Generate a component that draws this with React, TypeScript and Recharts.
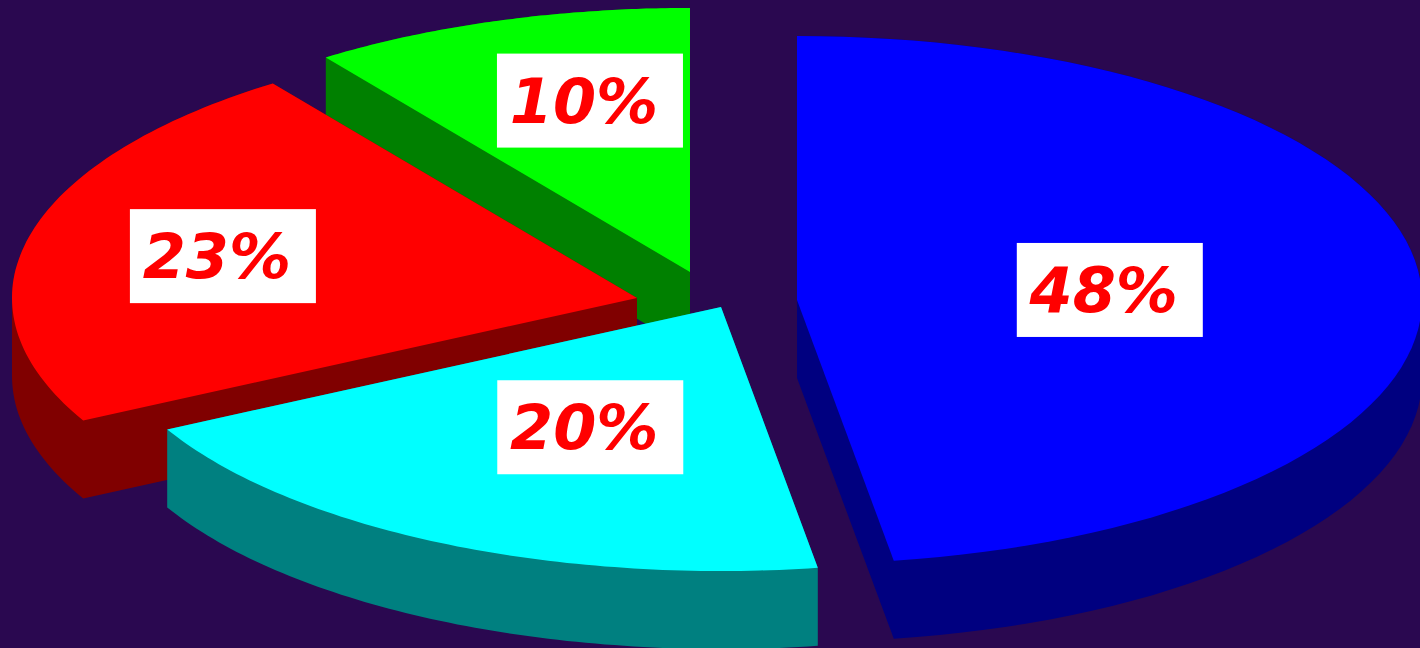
import { PieChart, Pie } from "recharts";

// slice order is counter-clockwise from 12 o'clock, so the back slices come first
const categories = ["Green", "Red", "Cyan", "Blue"];
const values = [10, 23, 20, 48];
const labels = ["10%", "23%", "20%", "48%"];

const topColors = ["#00ff00", "#ff0000", "#00ffff", "#0000ff"];
const sideColors = ["#008000", "#800000", "#008080", "#000080"];

// ellipse of the top face and thickness of the disc
const RX = 625;
const RY = 264;
const DEPTH = 78;

// exploded offset of each slice from the pie centre
const explode = [
  [-10, -18],
  [-63, 8],
  [21, 17],
  [97, 10],
];
// where the label box sits along the slice's mid angle (fraction of rx, ry)
const labelFrac = [
  [0.523, 0.682],
  [0.681, 0.686],
  [0.465, 0.51],
  [0.502, 0.49],
];

const data = categories.map((name, i) => ({ name, value: values[i], label: labels[i] }));

const rad = (a: number) => (a * Math.PI) / 180;

function hull(pts: number[][]) {
  const p = [...pts].sort((a, b) => a[0] - b[0] || a[1] - b[1]);
  const cross = (o: number[], a: number[], b: number[]) =>
    (a[0] - o[0]) * (b[1] - o[1]) - (a[1] - o[1]) * (b[0] - o[0]);
  const lower: number[][] = [];
  for (const q of p) {
    while (lower.length >= 2 && cross(lower[lower.length - 2], lower[lower.length - 1], q) <= 0) lower.pop();
    lower.push(q);
  }
  const upper: number[][] = [];
  for (let i = p.length - 1; i >= 0; i--) {
    const q = p[i];
    while (upper.length >= 2 && cross(upper[upper.length - 2], upper[upper.length - 1], q) <= 0) upper.pop();
    upper.push(q);
  }
  return lower.slice(0, -1).concat(upper.slice(0, -1));
}

const toPath = (pts: number[][]) =>
  pts.map((p, i) => `${i ? "L" : "M"}${p[0].toFixed(1)},${p[1].toFixed(1)}`).join("") + "Z";

// draws one 3D slice from the angles the Pie computed
const renderSlice = (props: any) => {
  const { cx, cy, startAngle, endAngle, midAngle, index } = props;
  const x0 = cx + explode[index][0];
  const y0 = cy + explode[index][1];
  const steps = 80;
  const top: number[][] = [[x0, y0]];
  for (let s = 0; s <= steps; s++) {
    const a = rad(startAngle + ((endAngle - startAngle) * s) / steps);
    top.push([x0 + RX * Math.cos(a), y0 - RY * Math.sin(a)]);
  }
  const bottom = top.map((p) => [p[0], p[1] + DEPTH]);
  const side = hull(top.concat(bottom));

  const m = rad(midAngle);
  const lx = x0 + labelFrac[index][0] * RX * Math.cos(m);
  const ly = y0 - labelFrac[index][1] * RY * Math.sin(m);

  return (
    <g key={`slice-${index}`}>
      <path d={toPath(side)} fill={sideColors[index]} />
      <path d={toPath(top)} fill={topColors[index]} />
      <rect x={lx - 93} y={ly - 47} width={186} height={94} fill="#ffffff" />
      <text
        x={lx - 6}
        y={ly + 22}
        textAnchor="middle"
        fill="#ff0000"
        fontFamily="'DejaVu Sans', Verdana, sans-serif"
        fontWeight="bold"
        fontStyle="italic"
        fontSize={62}
      >
        {data[index].label}
      </text>
    </g>
  );
};

export default function App() {
  return (
    <div style={{ position: "fixed", left: 0, top: 0, width: 1420, height: 648, background: "#2a0850" }}>
      <PieChart width={1420} height={648} margin={{ top: 0, right: 0, bottom: 0, left: 0 }}>
        <Pie
          data={data}
          dataKey="value"
          nameKey="name"
          cx={700}
          cy={290}
          outerRadius={10}
          startAngle={90}
          endAngle={450}
          fill="none"
          stroke="none"
          labelLine={false}
          label={renderSlice}
          isAnimationActive={false}
        />
      </PieChart>
    </div>
  );
}
